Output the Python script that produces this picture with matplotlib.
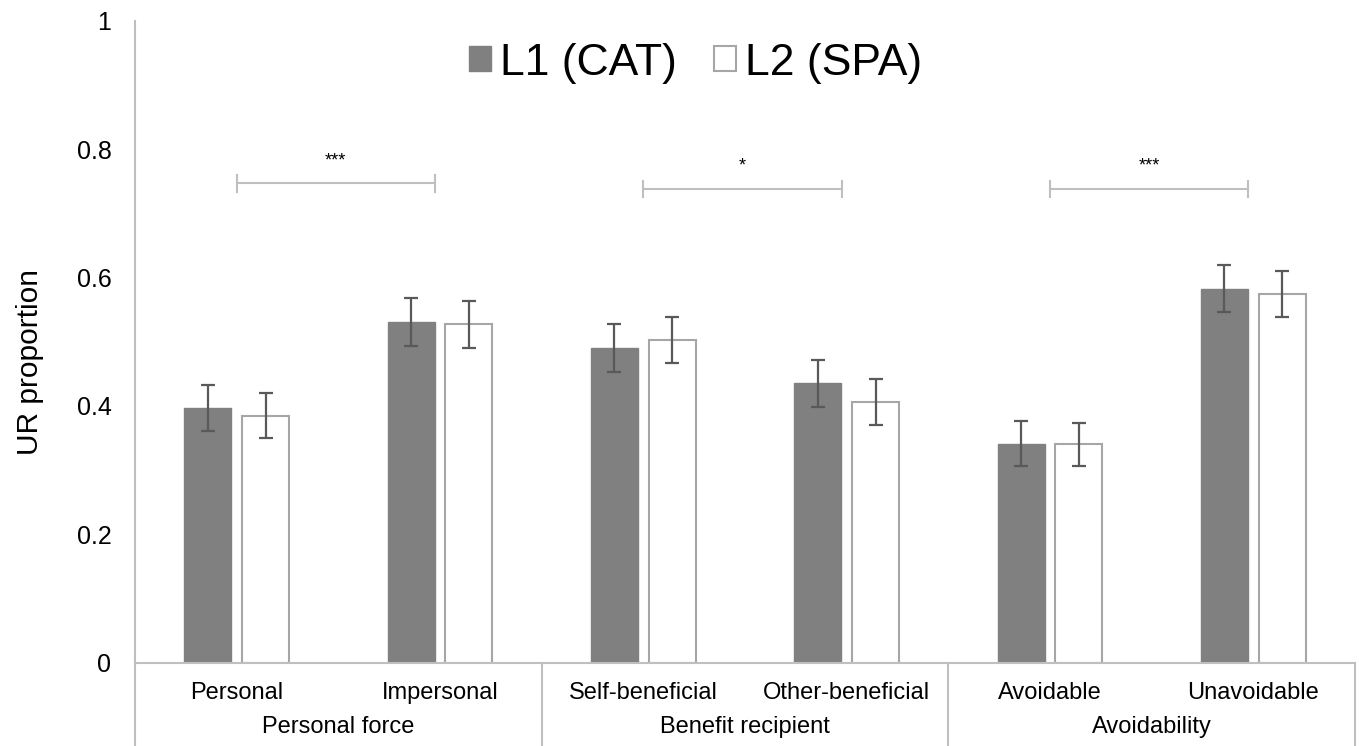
import matplotlib.pyplot as plt
import matplotlib.transforms as mtransforms
from matplotlib.patches import Patch
import numpy as np

plt.rcParams['font.family'] = ['Liberation Sans', 'DejaVu Sans']

# données
categories = ['Personal', 'Impersonal', 'Self-beneficial', 'Other-beneficial',
              'Avoidable', 'Unavoidable']
groups = ['Personal force', 'Benefit recipient', 'Avoidability']
l1_mean = [0.397, 0.531, 0.490, 0.435, 0.341, 0.583]
l1_err = [0.036, 0.037, 0.037, 0.037, 0.035, 0.036]
l2_mean = [0.385, 0.527, 0.503, 0.406, 0.340, 0.574]
l2_err = [0.035, 0.036, 0.036, 0.036, 0.034, 0.036]
sig_labels = ['***', '*', '***']
sig_heights = [0.747, 0.738, 0.738]

W, H = 1359, 746
fig = plt.figure(figsize=(W / 100, H / 100), dpi=100)
ax = fig.add_axes([135 / W, 1 - 662.5 / H, (1355 - 135) / W, (662.5 - 21) / H])

x = np.arange(len(categories))
width = 0.23
off = 0.142
err_kw = dict(ecolor='#595959', elinewidth=1.6, capsize=5, capthick=1.6)

ax.bar(x - off, l1_mean, width, color='#808080', edgecolor='#808080',
       yerr=l1_err, error_kw=err_kw, label='L1 (CAT)', zorder=2)
ax.bar(x + off, l2_mean, width, color='white', edgecolor='#a6a6a6', linewidth=1.5,
       yerr=l2_err, error_kw=err_kw, label='L2 (SPA)', zorder=2)

ax.set_xlim(-0.5, len(categories) - 0.5)
ax.set_ylim(0, 1)
ax.set_yticks([0, 0.2, 0.4, 0.6, 0.8, 1])
ax.set_yticklabels(['0', '0.2', '0.4', '0.6', '0.8', '1'], fontsize=18)
ax.tick_params(axis='y', length=0, pad=17)
ax.set_xticks(x)
ax.set_xticklabels(categories, fontsize=17)
ax.tick_params(axis='x', length=0, pad=14)
ax.set_ylabel('UR proportion', fontsize=21.5)
ax.yaxis.set_label_coords(-0.0745, 0.468)

for s in ['top', 'right']:
    ax.spines[s].set_visible(False)
for s in ['left', 'bottom']:
    ax.spines[s].set_color('#bfbfbf')
    ax.spines[s].set_linewidth(1.5)

# séparateurs de groupes sous l'axe
trans = mtransforms.blended_transform_factory(ax.transData, ax.transAxes)
for sx in [-0.5, 1.5, 3.5, 5.5]:
    ax.plot([sx, sx], [0, -0.14], transform=trans, color='#bfbfbf',
            linewidth=1.5, clip_on=False)
for i, g in enumerate(groups):
    ax.text(2 * i + 0.5, -0.1094, g, transform=trans, ha='center', va='baseline',
            fontsize=17)

# crochets de significativité
for i, (lab, h) in enumerate(zip(sig_labels, sig_heights)):
    x0, x1 = 2 * i, 2 * i + 0.975
    ax.plot([x0, x1], [h, h], color='#bfbfbf', linewidth=1.5)
    ax.plot([x0, x0], [h - 0.013, h + 0.013], color='#bfbfbf', linewidth=1.5)
    ax.plot([x1, x1], [h - 0.013, h + 0.013], color='#bfbfbf', linewidth=1.5)
    ax.text((x0 + x1) / 2, h + 0.022, lab, ha='center', va='bottom', fontsize=13)

handles = [Patch(facecolor='#808080', edgecolor='#808080'),
           Patch(facecolor='white', edgecolor='#a6a6a6', linewidth=1.5)]
fig.legend(handles, ['L1 (CAT)', 'L2 (SPA)'], loc='center',
           bbox_to_anchor=(695.5 / W, 1 - 63 / H), ncol=2, frameon=False,
           fontsize=32, handlelength=0.5, handleheight=0.5,
           handletextpad=0.2, columnspacing=0.85)

fig.savefig('out.png', dpi=100)
